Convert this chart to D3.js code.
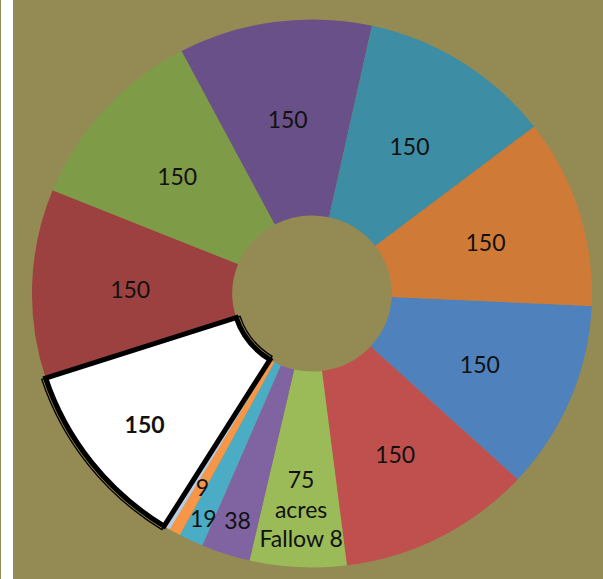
<!DOCTYPE html>
<html>
<head>
<meta charset="utf-8">
<script src="https://cdn.jsdelivr.net/npm/d3@7"></script>
<style>
  html, body { margin: 0; padding: 0; background: #ffffff; }
  svg { display: block; }
  text { font-family: Lato, "Open Sans", sans-serif; fill: #111111; }
</style>
</head>
<body>
<svg id="chart" width="603" height="579"></svg>
<script>
// Acreage per field, in drawing order (clockwise).
const fields = ["Field A", "Field B", "Fallow", "Field C", "Field D", "Field E",
                "Plot 1", "Plot 2", "Plot 3", "Field F", "Field G", "Field H",
                "Field I", "Field J", "Field K"];
const acres = [150, 150, 75, 38, 19, 9, 3, 1, 1, 150, 150, 150, 150, 150, 150];
// Label text per slice; "|" splits a label over several lines.
const labelText = ["150", "150", "75|acres|Fallow 8", "38", "19", "9", "", "", "",
                   "150", "150", "150", "150", "150", "150"];
const sliceColors = ["#4F81BD", "#C0504D", "#9BBB59", "#8064A2", "#4BACC6", "#F79646",
                     "#B9CDE5", "#E6B9B8", "#D7E4BD", "#FFFFFF", "#9C413F", "#7E9B47",
                     "#6A5088", "#3D8DA5", "#CF7B37"];
const highlighted = "Field F";

const W = 603, H = 579;
const cx = 312, cy = 293.5;
const outerR = 274, innerR = 78;
const xStretch = 1.022;
const startDeg = 92.6;

const svg = d3.select("#chart");

// Olive plot background with a narrow white strip on the left
svg.append("rect").attr("x", 0).attr("y", 0).attr("width", W).attr("height", H).attr("fill", "#948A54");
svg.append("rect").attr("x", 1).attr("y", 0).attr("width", 12).attr("height", H).attr("fill", "#FFFFFF");

const data = fields.map((f, i) => ({ field: f, value: acres[i], label: labelText[i], color: sliceColors[i] }));

const start = startDeg * Math.PI / 180;
const pie = d3.pie().sort(null).value(d => d.value)
  .startAngle(start).endAngle(start + 2 * Math.PI);
const arcs = pie(data);

const arc = d3.arc().innerRadius(innerR).outerRadius(outerR);
const g = svg.append("g").attr("transform", `translate(${cx},${cy}) scale(${xStretch},1)`);
const gl = svg.append("g").attr("transform", `translate(${cx},${cy})`);

g.selectAll("path.slice")
  .data(arcs)
  .join("path")
  .attr("class", "slice")
  .attr("d", arc)
  .attr("fill", d => d.data.color);

// Double outline around the highlighted slice: thin outer rule plus thick inner rule
const hi = arcs.find(d => d.data.field === highlighted);
g.append("path")
  .attr("d", d3.arc().innerRadius(innerR - 4).outerRadius(outerR + 4)(hi))
  .attr("fill", "none").attr("stroke", "#000").attr("stroke-width", 1.4);
g.append("path")
  .attr("d", arc(hi))
  .attr("fill", "#FFFFFF").attr("stroke", "#000").attr("stroke-width", 5)
  .attr("stroke-linejoin", "miter");

// Data labels: large slices at mid-ring, narrow slices pushed outward and staggered
function labelRadius(d) {
  const v = d.data.value;
  if (d.data.field === highlighted) return 208;
  if (v >= 100) return 178;
  if (v >= 50) return 213;
  if (v >= 30) return 236;
  if (v >= 15) return 246;
  return 219;
}
const fontSize = 23, lineGap = 29.5, capHalf = 8.3, yNudge = 3;

arcs.filter(d => d.data.label).forEach(d => {
  const r = labelRadius(d);
  const [x0, y] = d3.arc().innerRadius(r).outerRadius(r).centroid(d);
  const x = x0 * xStretch;
  const lines = d.data.label.split("|");
  const t = gl.append("text")
    .attr("text-anchor", "middle")
    .attr("font-size", fontSize)
    .attr("font-weight", d.data.field === highlighted ? "bold" : "normal");
  lines.forEach((ln, i) => {
    t.append("tspan")
      .attr("x", x)
      .attr("y", y + yNudge + capHalf + (i - (lines.length - 1) / 2) * lineGap)
      .text(ln);
  });
});
</script>
</body>
</html>
